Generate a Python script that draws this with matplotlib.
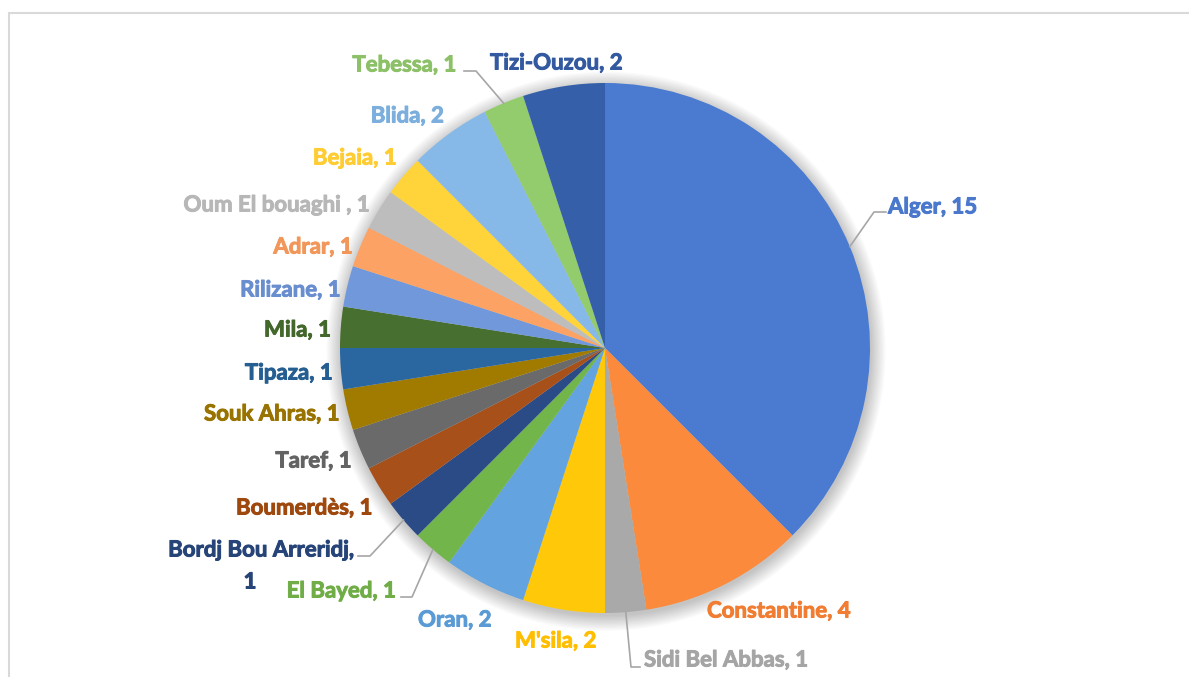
import numpy as np
import matplotlib.pyplot as plt
import matplotlib.patheffects as pe
from matplotlib.patches import Rectangle, Circle

# Cities and counts, clockwise from 12 o'clock
cities = ['Alger', 'Constantine', 'Sidi Bel Abbas', "M'sila", 'Oran', 'El Bayed',
          'Bordj Bou Arreridj', 'Boumerdès', 'Taref', 'Souk Ahras', 'Tipaza', 'Mila',
          'Rilizane', 'Adrar', 'Oum El bouaghi ', 'Bejaia', 'Blida', 'Tebessa', 'Tizi-Ouzou']
counts = [15, 4, 1, 2, 2, 1, 1, 1, 1, 1, 1, 1, 1, 1, 1, 1, 2, 1, 2]

colors = ['#4a7bd0', '#fb8a3c', '#a9a9a9', '#ffc90a', '#62a3e0', '#72b54b',
          '#2a4b85', '#a8501a', '#6a6a6a', '#a07b00', '#2a67a0', '#476f2f',
          '#7098db', '#fca264', '#bdbdbd', '#ffd43b', '#86b9e8', '#93cc6c', '#3560a9']
text_colors = ['#4a78cc', '#f07d32', '#a5a5a5', '#ffbf00', '#5b9bd5', '#70ad47',
               '#264478', '#9e480e', '#636363', '#997300', '#255e91', '#43682b',
               '#698ed0', '#f1975a', '#b7b7b7', '#ffcd33', '#7cafdd', '#8cc168', '#335aa1']

W, H = 1189, 677
CX, CY, R = 605, 348, 265

# label placement in pixels: x, y, ha
lab_pos = [(888, 207, 'left'), (707, 611, 'left'), (644, 660, 'left'), (515, 641, 'left'),
           (418, 620, 'left'), (396, 591, 'right'), (355, 550, 'right'), (373, 508, 'right'),
           (352, 461, 'right'), (340, 414, 'right'), (333, 373, 'right'), (331, 330, 'right'),
           (341, 290, 'right'), (353, 247, 'right'), (370, 205, 'right'), (397, 158, 'right'),
           (444, 116, 'right'), (457, 65, 'right'), (490, 63, 'left')]
# leader lines: index -> (elbow, end) in pixels
leaders = {0: ((874, 212), (886, 212)), 2: ((631, 667), (640, 667)),
           5: ((412, 597), (401, 597)), 6: ((370, 556), (358, 556)),
           17: ((476, 71), (464, 71))}


def px(x, y):
    return (x - CX) / R, (CY - y) / R


fig = plt.figure(figsize=(W / 100, H / 100), dpi=100)
ax = fig.add_axes([0, 0, 1, 1])

# soft shadow behind the pie
for k in range(12):
    ax.add_patch(Circle((0.004, -0.012), 1.0 + k * 0.005, color='black', alpha=0.018,
                        lw=0, zorder=0))

wedges, _ = ax.pie(counts, colors=colors, startangle=90, counterclock=False, radius=1,
                   wedgeprops=dict(linewidth=0))
for w in wedges:
    w.set_zorder(2)

ax.set_xlim(-CX / R, (W - CX) / R)
ax.set_ylim(-(H - CY) / R, CY / R)
ax.set_aspect('equal')
ax.axis('off')


def put(x, y, s, ha, col):
    tx, ty = px(x, y)
    ax.text(tx, ty, s, ha=ha, va='center', color=col, fontsize=16,
            fontweight='bold', family='Lato', zorder=5,
            path_effects=[pe.withStroke(linewidth=0.7, foreground=col)])


total = sum(counts)
cum = np.cumsum([0] + counts)
for i, (c, v) in enumerate(zip(cities, counts)):
    x, y, ha = lab_pos[i]
    if i == 6:
        # wrapped label: value on its own line
        put(x, y, f'{c},', ha, text_colors[i])
        put(250, y + 32, f'{v}', 'center', text_colors[i])
    else:
        put(x, y, f'{c}, {v}', ha, text_colors[i])
    if i in leaders:
        mid = (cum[i] + cum[i + 1]) / 2 / total
        ang = np.deg2rad(90 - 360 * mid)
        (ex, ey), (fx, fy) = leaders[i]
        p1 = px(ex, ey)
        p2 = px(fx, fy)
        ax.plot([np.cos(ang), p1[0], p2[0]], [np.sin(ang), p1[1], p2[1]],
                color='#a6a6a6', lw=1.2, zorder=4)

# chart border
fig.add_artist(Rectangle((9 / W, -0.02), 1.0, 1 - 13 / H + 0.02, transform=fig.transFigure,
                         fill=False, edgecolor='#d9d9d9', lw=1.5))

fig.savefig('out.png', dpi=100)
